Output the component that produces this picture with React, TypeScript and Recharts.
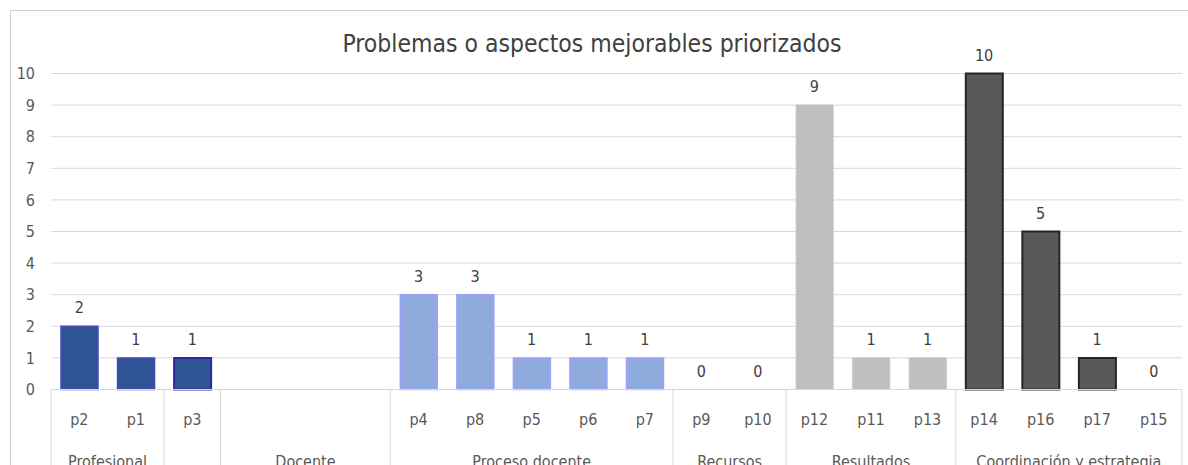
import React from "react";
import { ComposedChart, Bar, Line, XAxis, YAxis, CartesianGrid, Cell, LabelList } from "recharts";

// ---- data ----
const categories = ["p2", "p1", "p3", "", "", "", "p4", "p8", "p5", "p6", "p7", "p9", "p10", "p12", "p11", "p13", "p14", "p16", "p17", "p15"];
const values: (number | null)[] = [2, 1, 1, null, null, null, 3, 3, 1, 1, 1, 0, 0, 9, 1, 1, 10, 5, 1, 0];
const groupNames = ["Profesional", "", "Docente", "Proceso docente", "Recursos", "Resultados", "Coordinación y estrategia"];
const groupSizes = [2, 1, 3, 5, 2, 3, 4];
const groupFills = ["#2F5597", "#2F5597", "#2F5597", "#8FAADC", "#A5A5A5", "#BFBFBF", "#595959"];
const groupStrokes = ["#4848B8", "#2A2AA0", "#2A2AA0", "#A0A0FF", "#A5A5A5", "#C4C4C4", "#262626"];
const groupStrokeWidths = [1.5, 2, 2, 1.5, 1, 1, 2];
const yTicks = [0, 1, 2, 3, 4, 5, 6, 7, 8, 9, 10];
const title = "Problemas o aspectos mejorables priorizados";

// group index for each category
const groupOf: number[] = [];
const firstOfGroup: boolean[] = [];
groupSizes.forEach((s, g) => {
  for (let k = 0; k < s; k++) {
    groupOf.push(g);
    firstOfGroup.push(k === 0);
  }
});

const data = categories.map((name, i) => ({ key: String(i), name, value: values[i], group: groupOf[i] }));

// ---- layout ----
const FONT = "'Liberation Sans Narrow', 'DejaVu Sans Condensed', 'Open Sans', sans-serif";
const CHART_W = 1188;
const CHART_H = 560;
const MARGIN = { top: 73.5, right: 6, left: 0, bottom: 0 };
const YAXIS_W = 51;
const PLOT_W = CHART_W - MARGIN.left - MARGIN.right - YAXIS_W;
const BAND = PLOT_W / categories.length;

const CategoryTick = (props: any) => {
  const { x, y, payload } = props;
  const i = Number(payload.value);
  const g = groupOf[i];
  const half = payload.offset && payload.offset > 0 ? payload.offset : BAND / 2;
  const band = half * 2;
  const els: React.ReactNode[] = [];
  els.push(
    <text key="t" x={x} y={y + 35.5} textAnchor="middle" fill="#595959" fontSize={16} fontFamily={FONT}>
      {categories[i]}
    </text>
  );
  if (firstOfGroup[i]) {
    const left = x - half;
    els.push(<line key="l" x1={left} x2={left} y1={y} y2={y + 200} stroke="#D9D9D9" strokeWidth={1} />);
    els.push(
      <text key="g" x={left + (groupSizes[g] * band) / 2} y={y + 77.5} textAnchor="middle" fill="#595959" fontSize={16} fontFamily={FONT}>
        {groupNames[g]}
      </text>
    );
  }
  if (i === categories.length - 1) {
    const right = x + half;
    els.push(<line key="r" x1={right} x2={right} y1={y} y2={y + 200} stroke="#D9D9D9" strokeWidth={1} />);
  }
  return <g>{els}</g>;
};

export default function App() {
  return (
    <div style={{ position: "absolute", left: 0, top: 0, width: 1188, height: 465, overflow: "hidden", background: "#fff" }}>
      <div
        style={{
          position: "absolute",
          left: 9.5,
          top: 9.5,
          width: 1300,
          height: 600,
          border: "1.5px solid #D0D0D0",
          boxSizing: "border-box",
        }}
      />
      <div
        style={{
          position: "absolute",
          left: 0,
          width: 1184,
          top: 31,
          textAlign: "center",
          fontFamily: FONT,
          fontSize: 24.5,
          lineHeight: "25px",
          color: "#404040",
          whiteSpace: "nowrap",
        }}
      >
        {title}
      </div>
      <div style={{ position: "absolute", left: 0, top: 0 }}>
        <ComposedChart width={CHART_W} height={CHART_H} data={data} margin={MARGIN}>
          <CartesianGrid vertical={false} stroke="#D9D9D9" strokeWidth={1} />
          <YAxis
            domain={[0, 10]}
            ticks={yTicks}
            interval={0}
            axisLine={false}
            tickLine={false}
            tickSize={0}
            tickMargin={16}
            width={YAXIS_W}
            tick={{ fill: "#595959", fontSize: 16, fontFamily: FONT }}
          />
          <XAxis
            dataKey="key"
            interval={0}
            height={CHART_H - 389.5 - MARGIN.bottom}
            axisLine={{ stroke: "#D9D9D9", strokeWidth: 1 }}
            tickLine={false}
            tickSize={0}
            tickMargin={0}
            tick={<CategoryTick />}
          />
          <Bar dataKey="value" barSize={37} isAnimationActive={false}>
            {data.map((d, i) => (
              <Cell
                key={i}
                fill={groupFills[d.group]}
                stroke={groupStrokes[d.group]}
                strokeWidth={groupStrokeWidths[d.group]}
              />
            ))}
          </Bar>
          <Line
            dataKey="value"
            stroke="none"
            dot={false}
            activeDot={false}
            legendType="none"
            isAnimationActive={false}
          >
            <LabelList dataKey="value" position="top" offset={13} fill="#404040" fontSize={16} fontFamily={FONT} />
          </Line>
        </ComposedChart>
      </div>
    </div>
  );
}
